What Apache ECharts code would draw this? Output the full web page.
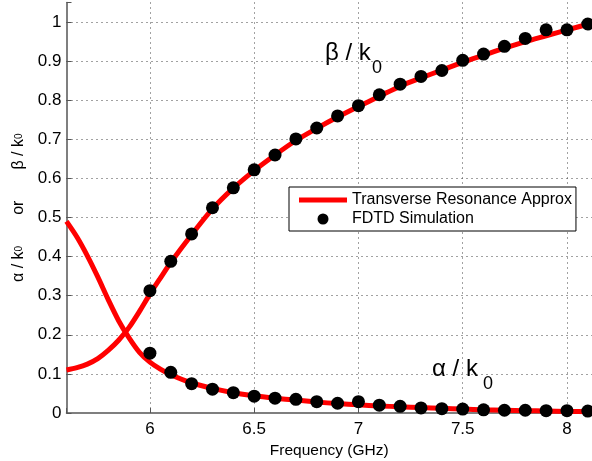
<!DOCTYPE html>
<html>
<head>
<meta charset="utf-8">
<script src="https://cdn.jsdelivr.net/npm/echarts@6/dist/echarts.min.js"></script>
<style>
  html, body { margin: 0; padding: 0; background: #fff; }
  #chart { width: 592px; height: 461px; }
</style>
</head>
<body>
<div id="chart"></div>
<script>
// transverse resonance curves
const lineFreq = [5.6, 5.65, 5.7, 5.75, 5.8, 5.85, 5.9, 5.95, 6.0, 6.05, 6.1, 6.2, 6.3, 6.4, 6.5, 6.6, 6.7, 6.8, 6.9, 7.0, 7.1, 7.2, 7.3, 7.4, 7.5, 7.6, 7.7, 7.8, 7.9, 8.0, 8.12]
const alphaLine = [0.490, 0.450, 0.402, 0.348, 0.290, 0.236, 0.192, 0.155, 0.130, 0.112, 0.098, 0.077, 0.063, 0.052, 0.044, 0.038, 0.033, 0.028, 0.024, 0.021, 0.018, 0.016, 0.014, 0.012, 0.010, 0.008, 0.007, 0.006, 0.005, 0.004, 0.003]
const betaLine = [0.110, 0.116, 0.125, 0.139, 0.160, 0.186, 0.219, 0.260, 0.304, 0.345, 0.385, 0.456, 0.522, 0.575, 0.620, 0.660, 0.697, 0.728, 0.757, 0.784, 0.810, 0.836, 0.857, 0.877, 0.897, 0.915, 0.933, 0.950, 0.965, 0.980, 0.997]

// FDTD points
const simFreq = [6.0, 6.1, 6.2, 6.3, 6.4, 6.5, 6.6, 6.7, 6.8, 6.9, 7.0, 7.1, 7.2, 7.3, 7.4, 7.5, 7.6, 7.7, 7.8, 7.9, 8.0, 8.1]
const alphaSim = [0.153, 0.104, 0.075, 0.061, 0.052, 0.043, 0.038, 0.035, 0.029, 0.025, 0.029, 0.020, 0.017, 0.013, 0.011, 0.010, 0.008, 0.007, 0.007, 0.006, 0.006, 0.005]
const betaSim = [0.313, 0.388, 0.458, 0.525, 0.576, 0.622, 0.660, 0.701, 0.729, 0.760, 0.786, 0.814, 0.841, 0.861, 0.876, 0.902, 0.918, 0.938, 0.958, 0.980, 0.980, 0.995]

const lineName = 'Transverse Resonance Approx'
const simName = 'FDTD Simulation'

const font = "'Liberation Sans', Arial, sans-serif"
const axisColor = '#555'

const pairs = (xs, ys) => xs.map((x, i) => [x, ys[i]])

const chart = echarts.init(document.getElementById('chart'))

const option = {
  animation: false,
  textStyle: { fontFamily: font },
  grid: { left: 66.5, right: 0, top: 2.5, bottom: 48, outerBoundsMode: 'none' },
  legend: {
    orient: 'vertical',
    left: 289,
    top: 187,
    data: [
      // thick red bar, no marker, like the reference legend
      { name: lineName, icon: 'path://M0,0 L48,0 L48,5 L0,5 Z' },
      { name: simName, icon: 'circle' }
    ],
    backgroundColor: '#fff',
    borderColor: '#000',
    borderWidth: 1,
    padding: [5, 4, 4, 10],
    itemGap: 3,
    itemWidth: 48,
    itemHeight: 11,
    textStyle: { fontSize: 16, color: '#000', fontFamily: font }
  },
  xAxis: {
    type: 'value',
    min: 5.6,
    max: 8.12,
    name: 'Frequency (GHz)',
    nameLocation: 'middle',
    nameGap: 27,
    nameTextStyle: { fontSize: 15.5, color: '#000' },
    axisLine: { onZero: false, lineStyle: { color: axisColor, width: 1.5 } },
    axisTick: { inside: true, length: 5, lineStyle: { color: axisColor } },
    axisLabel: {
      fontSize: 17,
      color: '#000',
      margin: 8,
      formatter: (v) => (Math.abs(v * 2 - Math.round(v * 2)) < 1e-6 ? String(Math.round(v * 2) / 2) : '')
    },
    splitLine: {
      show: true,
      showMinLine: false,
      showMaxLine: false,
      lineStyle: { color: '#444', width: 1, type: [1, 4] }
    }
  },
  yAxis: {
    type: 'value',
    min: 0,
    max: 1.05,
    interval: 0.1,
    name: '{m|α / k}{s|0}{o|or}{m|β / k}{s|0}',
    nameLocation: 'middle',
    nameRotate: 90,
    nameGap: 39,
    nameTextStyle: {
      color: '#000',
      rich: {
        m: { fontSize: 16, color: '#000', fontFamily: font, verticalAlign: 'middle' },
        s: { fontSize: 10, color: '#000', fontFamily: font, verticalAlign: 'middle' },
        o: { fontSize: 16, color: '#000', fontFamily: font, verticalAlign: 'middle', padding: [0, 31, 0, 31] }
      }
    },
    axisLine: { onZero: false, lineStyle: { color: axisColor, width: 1.5 } },
    axisTick: { inside: true, length: 5, lineStyle: { color: axisColor } },
    axisLabel: {
      fontSize: 17,
      color: '#000',
      margin: 5,
      formatter: (v) => (Math.abs(v * 10 - Math.round(v * 10)) < 1e-6 ? String(Math.round(v * 10) / 10) : '')
    },
    splitLine: {
      show: true,
      showMinLine: false,
      showMaxLine: false,
      lineStyle: { color: '#444', width: 1, type: [1, 4] }
    }
  },
  graphic: [
    { type: 'text', left: 325, top: 41, style: { text: 'β / k', font: '24px ' + font, fill: '#000' } },
    { type: 'text', left: 372, top: 59, style: { text: '0', font: '18px ' + font, fill: '#000' } },
    { type: 'text', left: 432, top: 357, style: { text: 'α / k', font: '24px ' + font, fill: '#000' } },
    { type: 'text', left: 483, top: 375, style: { text: '0', font: '18px ' + font, fill: '#000' } }
  ],
  series: [
    {
      name: lineName,
      type: 'line',
      data: pairs(lineFreq, alphaLine),
      smooth: 0.3,
      symbol: 'none',
      lineStyle: { color: '#ff0000', width: 5 },
      itemStyle: { color: '#ff0000' },
      z: 2
    },
    {
      name: lineName,
      type: 'line',
      data: pairs(lineFreq, betaLine),
      smooth: 0.3,
      symbol: 'none',
      lineStyle: { color: '#ff0000', width: 5 },
      itemStyle: { color: '#ff0000' },
      z: 2
    },
    {
      name: simName,
      type: 'scatter',
      data: pairs(simFreq, alphaSim),
      symbolSize: 13,
      itemStyle: { color: '#000', opacity: 1 },
      z: 3
    },
    {
      name: simName,
      type: 'scatter',
      data: pairs(simFreq, betaSim),
      symbolSize: 13,
      itemStyle: { color: '#000', opacity: 1 },
      z: 3
    }
  ]
}

chart.setOption(option)
</script>
</body>
</html>
